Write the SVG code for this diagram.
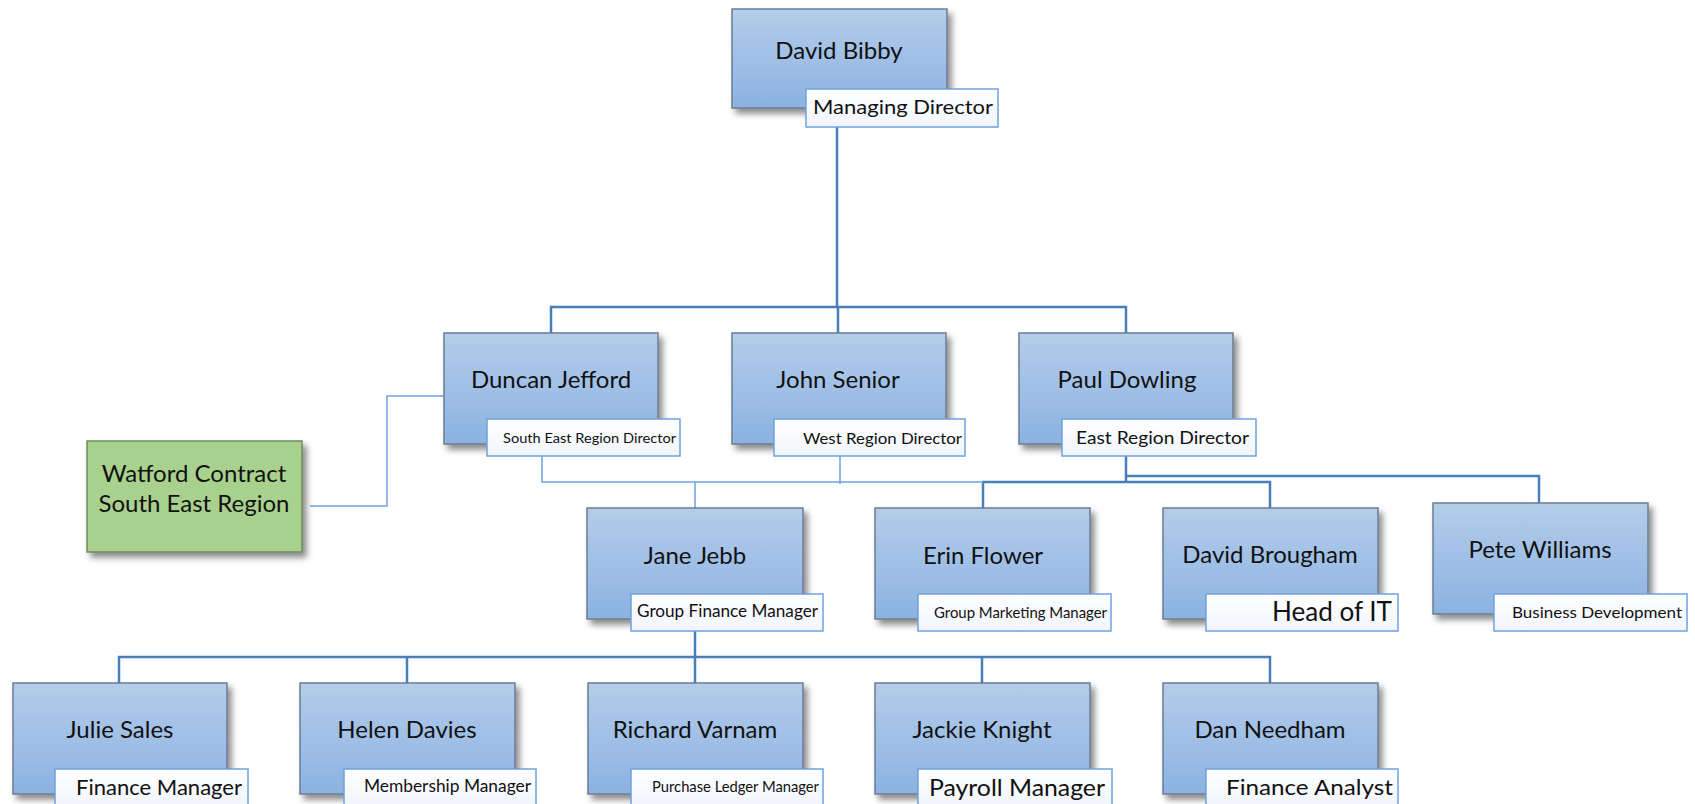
<svg xmlns="http://www.w3.org/2000/svg" width="1695" height="804" viewBox="0 0 1695 804">
<defs>
<linearGradient id="gb" x1="0" y1="0" x2="0" y2="1"><stop offset="0" stop-color="#b4cdea"/><stop offset="1" stop-color="#8cb2e2"/></linearGradient>
<linearGradient id="gw" x1="0" y1="0" x2="0" y2="1"><stop offset="0" stop-color="#ffffff"/><stop offset="1" stop-color="#f1f5fb"/></linearGradient>
<filter id="sh" x="-10%" y="-10%" width="130%" height="130%"><feDropShadow dx="4" dy="5" stdDeviation="3" flood-color="#000" flood-opacity="0.45"/></filter>
<style>
.box{fill:url(#gb);stroke:#6b7d93;stroke-width:1.5;filter:url(#sh)}
.green{fill:#a9d18e;stroke:#6f8a5c;stroke-width:1.5;filter:url(#sh)}
.lab{fill:url(#gw);stroke:#6ea3dc;stroke-width:1.5}
.nm{font-family:Lato,"Liberation Sans",sans-serif;font-size:24px;fill:#111;text-anchor:middle}
.tl{font-family:Lato,"Liberation Sans",sans-serif;fill:#111}
.thick{fill:none;stroke:#4a7ebb;stroke-width:2.5}
.thin{fill:none;stroke:#6ea3dc;stroke-width:1.5}
</style>
</defs>
<g id="connectors">
<path class="thick" d="M837 127V307M551 333V307H1126V333M838 307V333"/>
<path class="thick" d="M1126 456V482M1126 476H1539V503M983 508V482H1270V508"/>
<path class="thick" d="M695 631V657M119 683V657H1270V683M407 657V683M695 657V683M982 657V683"/>
<path class="thin" d="M310 506H387V396H444"/>
<path class="thin" d="M542 456V482H983M840 456V484M695 482V508"/>
</g>
<g id="david-bibby"><rect class="box" x="732" y="9" width="215" height="99"/><text class="nm" x="839" y="59">David Bibby</text><rect class="lab" x="806" y="89" width="192" height="38"/><text class="tl" x="813" y="114" font-size="20" textLength="180" lengthAdjust="spacingAndGlyphs">Managing Director</text></g>
<g id="duncan-jefford"><rect class="box" x="444" y="333" width="214" height="111"/><text class="nm" x="551" y="388">Duncan Jefford</text><rect class="lab" x="487" y="419" width="193" height="37"/><text class="tl" x="503" y="443" font-size="14" textLength="173" lengthAdjust="spacingAndGlyphs">South East Region Director</text></g>
<g id="john-senior"><rect class="box" x="732" y="333" width="214" height="111"/><text class="nm" x="838" y="388">John Senior</text><rect class="lab" x="774" y="419" width="191" height="37"/><text class="tl" x="803" y="444" font-size="16" textLength="159" lengthAdjust="spacingAndGlyphs">West Region Director</text></g>
<g id="paul-dowling"><rect class="box" x="1019" y="333" width="214" height="111"/><text class="nm" x="1127" y="388">Paul Dowling</text><rect class="lab" x="1062" y="419" width="194" height="37"/><text class="tl" x="1076" y="444" font-size="18" textLength="173" lengthAdjust="spacingAndGlyphs">East Region Director</text></g>
<g id="watford"><rect class="green" x="87" y="441" width="215" height="111"/><text class="nm" x="194" y="482">Watford Contract</text><text class="nm" x="194" y="512">South East Region</text></g>
<g id="jane-jebb"><rect class="box" x="587" y="508" width="216" height="111"/><text class="nm" x="695" y="564">Jane Jebb</text><rect class="lab" x="631" y="594" width="192" height="37"/><text class="tl" x="637" y="617" font-size="18" textLength="181" lengthAdjust="spacingAndGlyphs">Group Finance Manager</text></g>
<g id="erin-flower"><rect class="box" x="875" y="508" width="215" height="111"/><text class="nm" x="983" y="564">Erin Flower</text><rect class="lab" x="918" y="594" width="193" height="37"/><text class="tl" x="934" y="618" font-size="16" textLength="173" lengthAdjust="spacingAndGlyphs">Group Marketing Manager</text></g>
<g id="david-brougham"><rect class="box" x="1163" y="508" width="215" height="111"/><text class="nm" x="1270" y="563">David Brougham</text><rect class="lab" x="1206" y="594" width="192" height="37"/><text class="tl" x="1272" y="621" font-size="27" textLength="120" lengthAdjust="spacingAndGlyphs">Head of IT</text></g>
<g id="pete-williams"><rect class="box" x="1433" y="503" width="215" height="111"/><text class="nm" x="1540" y="558">Pete Williams</text><rect class="lab" x="1494" y="594" width="193" height="37"/><text class="tl" x="1512" y="618" font-size="16" textLength="170" lengthAdjust="spacingAndGlyphs">Business Development</text></g>
<g id="julie-sales"><rect class="box" x="13" y="683" width="214" height="111"/><text class="nm" x="120" y="738">Julie Sales</text><rect class="lab" x="55" y="769" width="193" height="37"/><text class="tl" x="76" y="795" font-size="22" textLength="166" lengthAdjust="spacingAndGlyphs">Finance Manager</text></g>
<g id="helen-davies"><rect class="box" x="300" y="683" width="215" height="111"/><text class="nm" x="407" y="738">Helen Davies</text><rect class="lab" x="344" y="769" width="192" height="37"/><text class="tl" x="364" y="792" font-size="17" textLength="167" lengthAdjust="spacingAndGlyphs">Membership Manager</text></g>
<g id="richard-varnam"><rect class="box" x="588" y="683" width="215" height="111"/><text class="nm" x="695" y="738">Richard Varnam</text><rect class="lab" x="631" y="769" width="192" height="37"/><text class="tl" x="652" y="792" font-size="15" textLength="167" lengthAdjust="spacingAndGlyphs">Purchase Ledger Manager</text></g>
<g id="jackie-knight"><rect class="box" x="875" y="683" width="215" height="111"/><text class="nm" x="982" y="738">Jackie Knight</text><rect class="lab" x="918" y="769" width="194" height="37"/><text class="tl" x="929" y="796" font-size="24" textLength="176" lengthAdjust="spacingAndGlyphs">Payroll Manager</text></g>
<g id="dan-needham"><rect class="box" x="1163" y="683" width="215" height="111"/><text class="nm" x="1270" y="738">Dan Needham</text><rect class="lab" x="1206" y="769" width="192" height="37"/><text class="tl" x="1226" y="795" font-size="22" textLength="167" lengthAdjust="spacingAndGlyphs">Finance Analyst</text></g>
</svg>
